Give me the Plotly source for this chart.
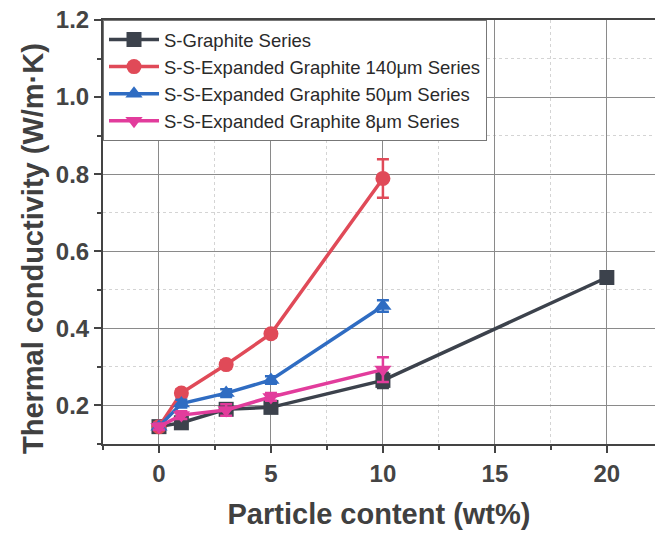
import plotly.graph_objects as go

x_graphite = [0, 1, 3, 5, 10, 20]
y_graphite = [0.145, 0.155, 0.19, 0.195, 0.265, 0.532]
e_graphite = [0.008, 0.01, 0.01, 0.012, 0.02, 0.015]

x_eg = [0, 1, 3, 5, 10]
y_140 = [0.145, 0.232, 0.306, 0.386, 0.789]
e_140 = [0.008, 0.01, 0.01, 0.01, 0.05]
y_50 = [0.145, 0.205, 0.232, 0.266, 0.458]
e_50 = [0.008, 0.01, 0.01, 0.01, 0.015]
y_8 = [0.145, 0.175, 0.188, 0.222, 0.293]
e_8 = [0.008, 0.01, 0.015, 0.01, 0.032]

names = ["S-Graphite Series",
         "S-S-Expanded Graphite 140μm Series",
         "S-S-Expanded Graphite 50μm Series",
         "S-S-Expanded Graphite 8μm Series"]
colors = ["#3c424c", "#e04a58", "#2f6cc2", "#e23c9c"]
symbols = ["square", "circle", "triangle-up", "triangle-down"]

series = [(x_graphite, y_graphite, e_graphite), (x_eg, y_140, e_140),
          (x_eg, y_50, e_50), (x_eg, y_8, e_8)]

fig = go.Figure()
for (xs, ys, es), nm, c, s in zip(series, names, colors, symbols):
    fig.add_trace(go.Scatter(
        x=xs, y=ys, name=nm, mode="lines+markers",
        line=dict(color=c, width=3.5),
        marker=dict(symbol=s, size=15, color=c),
        error_y=dict(type="data", array=es, color=c, thickness=2.5, width=6),
    ))

font = "Liberation Sans, Arial, sans-serif"
fig.update_layout(
    width=655, height=534,
    margin=dict(l=103, r=0, t=20, b=90),
    paper_bgcolor="white", plot_bgcolor="white",
    font=dict(family=font, color="#404040"),
    legend=dict(x=0, y=1, xanchor="left", yanchor="top",
                bgcolor="white", bordercolor="#777", borderwidth=1,
                font=dict(size=18.5, color="#2a2a2a"), tracegroupgap=0,
                itemwidth=50),
    showlegend=True,
    annotations=[dict(
        text="<b>Thermal conductivity (W/m·K)</b>", textangle=-90,
        xref="paper", yref="paper", x=-0.127, y=0.462,
        xanchor="center", yanchor="middle", showarrow=False,
        font=dict(size=29, color="#404040", family=font),
    )],
)
fig.update_xaxes(
    range=[-2.5, 22.15],
    tickvals=[0, 5, 10, 15, 20],
    ticks="outside", ticklen=7, tickwidth=2, tickcolor="#444",
    showline=True, linecolor="#444", linewidth=2, mirror=True,
    showgrid=True, gridcolor="#8a8a8a", gridwidth=1.2,
    zeroline=False,
    minor=dict(dtick=2.5, tick0=0, ticks="outside", ticklen=4, tickcolor="#444",
               showgrid=True, gridcolor="#d4d4d4", griddash="dot"),
    tickfont=dict(size=24, family=font, color="#444", weight="bold"),
    title=dict(text="<b>Particle content (wt%)</b>", font=dict(size=29, color="#404040"), standoff=18),
)
fig.update_yaxes(
    range=[0.1, 1.2],
    tickvals=[0.2, 0.4, 0.6, 0.8, 1.0, 1.2],
    ticktext=["0.2", "0.4", "0.6", "0.8", "1.0", "1.2"],
    ticks="outside", ticklen=7, tickwidth=2, tickcolor="#444",
    showline=True, linecolor="#444", linewidth=2, mirror=False,
    showgrid=True, gridcolor="#8a8a8a", gridwidth=1.2,
    zeroline=False,
    minor=dict(tickvals=[0.1, 0.3, 0.5, 0.7, 0.9, 1.1], ticks="outside", ticklen=4, tickcolor="#444",
               showgrid=True, gridcolor="#d4d4d4", griddash="dot"),
    tickfont=dict(size=24, family=font, color="#444", weight="bold"),
)
fig.write_html("out.html")
